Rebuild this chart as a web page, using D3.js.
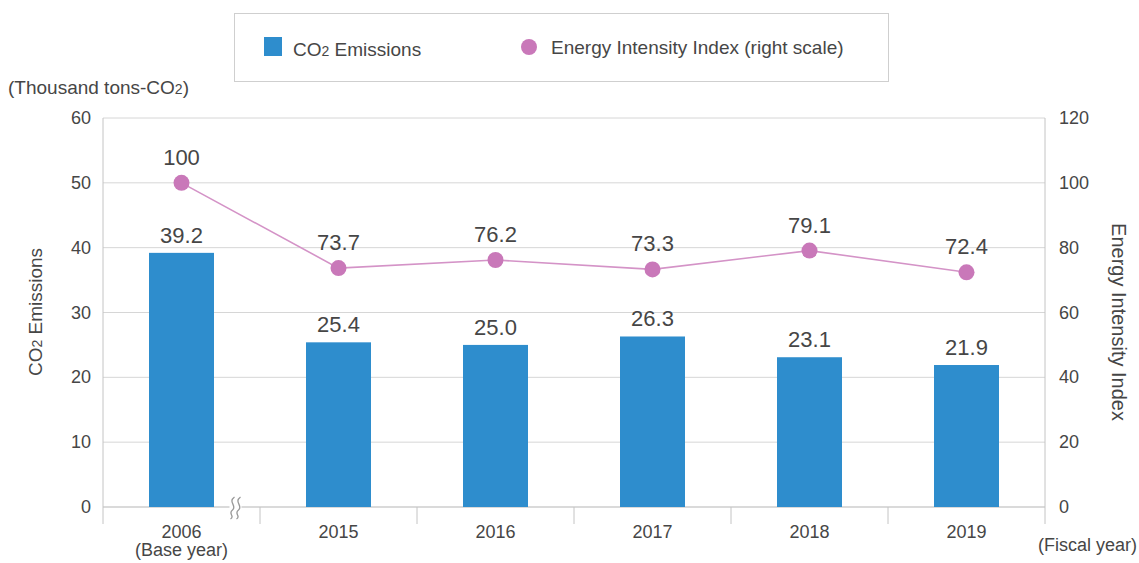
<!DOCTYPE html>
<html>
<head>
<meta charset="utf-8">
<script src="https://cdn.jsdelivr.net/npm/d3@7"></script>
<style>
  body { margin: 0; background: #fff; }
  svg text { font-family: "Liberation Sans", Arial, sans-serif; fill: #464646; }
</style>
</head>
<body>
<div id="chart"></div>
<script>
const years = ["2006", "2015", "2016", "2017", "2018", "2019"];
const subLabels = ["(Base year)", "", "", "", "", ""];
const co2 = [39.2, 25.4, 25.0, 26.3, 23.1, 21.9];
const intensity = [100, 73.7, 76.2, 73.3, 79.1, 72.4];
const leftTicks = [0, 10, 20, 30, 40, 50, 60];
const rightTicks = [0, 20, 40, 60, 80, 100, 120];

const width = 1139, height = 563;
const plotL = 103, plotR = 1045, plotT = 118, plotB = 507;

const svg = d3.select("#chart").append("svg")
    .attr("width", width)
    .attr("height", height);

const x = d3.scaleBand().domain(years).range([plotL, plotR]);
const y = d3.scaleLinear().domain([0, 60]).range([plotB, plotT]);
const yR = d3.scaleLinear().domain([0, 120]).range([plotB, plotT]);
const barW = 65;
const mid = d => x(d) + x.bandwidth() / 2;

// grid lines
svg.append("g").selectAll("line")
    .data(leftTicks)
    .join("line")
    .attr("x1", plotL).attr("x2", plotR)
    .attr("y1", d => y(d)).attr("y2", d => y(d))
    .attr("stroke", d => d === 0 ? "#b5b5b5" : "#d6d6d6");

// vertical frame lines
svg.append("line").attr("x1", plotL).attr("x2", plotL).attr("y1", plotT).attr("y2", plotB + 17).attr("stroke", "#c4c4c4");
svg.append("line").attr("x1", plotR).attr("x2", plotR).attr("y1", plotT).attr("y2", plotB + 17).attr("stroke", "#c4c4c4");

// category separators below axis
svg.append("g").selectAll("line")
    .data(years.slice(1))
    .join("line")
    .attr("x1", d => x(d)).attr("x2", d => x(d))
    .attr("y1", plotB).attr("y2", plotB + 17)
    .attr("stroke", "#c4c4c4");

// left tick labels
svg.append("g").selectAll("text")
    .data(leftTicks)
    .join("text")
    .attr("x", 91).attr("y", d => y(d) + 6)
    .attr("text-anchor", "end")
    .attr("font-size", 18)
    .text(d => d);

// right tick labels
svg.append("g").selectAll("text")
    .data(rightTicks)
    .join("text")
    .attr("x", 1059).attr("y", d => yR(d) + 6)
    .attr("font-size", 18)
    .text(d => d);

// bars
svg.append("g").selectAll("rect")
    .data(co2)
    .join("rect")
    .attr("x", (d, i) => mid(years[i]) - barW / 2)
    .attr("width", barW)
    .attr("y", d => y(d))
    .attr("height", d => y(0) - y(d))
    .attr("fill", "#2e8dcd");

// bar value labels
svg.append("g").selectAll("text")
    .data(co2)
    .join("text")
    .attr("x", (d, i) => mid(years[i]))
    .attr("y", d => y(d) - 10)
    .attr("text-anchor", "middle")
    .attr("font-size", 22)
    .text(d => d.toFixed(1));

// axis break mark between 2006 and 2015
const bx = mid(years[0]) + 54;
const brk = svg.append("g").attr("transform", `translate(${bx},${plotB})`);
brk.append("rect").attr("x", -6).attr("y", -10).attr("width", 12).attr("height", 22).attr("fill", "#fff");
[-3, 3].forEach(dx => {
  brk.append("path")
    .attr("d", `M${dx + 2},-10 C${dx - 5},-5 ${dx + 5},-1 ${dx},3 C${dx - 5},7 ${dx + 3},9 ${dx - 2},12`)
    .attr("fill", "none").attr("stroke", "#999").attr("stroke-width", 1.3);
});

// intensity line
const cx = (d, i) => mid(years[i]);
const line = d3.line().x((d, i) => cx(d, i)).y(d => yR(d));
svg.append("path")
    .datum(intensity)
    .attr("d", line)
    .attr("fill", "none")
    .attr("stroke", "#d493c7")
    .attr("stroke-width", 1.6);

svg.append("g").selectAll("circle")
    .data(intensity)
    .join("circle")
    .attr("cx", cx)
    .attr("cy", d => yR(d))
    .attr("r", 8)
    .attr("fill", "#c978b9");

svg.append("g").selectAll("text")
    .data(intensity)
    .join("text")
    .attr("x", cx)
    .attr("y", d => yR(d) - 18)
    .attr("text-anchor", "middle")
    .attr("font-size", 22)
    .text(d => d === 100 ? "100" : d.toFixed(1));

// category labels
const cat = svg.append("g").selectAll("g")
    .data(years)
    .join("g")
    .attr("transform", d => `translate(${mid(d)},0)`);
cat.append("text").attr("y", 538).attr("text-anchor", "middle").attr("font-size", 18).text(d => d);
cat.append("text").attr("y", 556).attr("text-anchor", "middle").attr("font-size", 18)
    .text((d, i) => subLabels[i]);

svg.append("text").attr("x", 1137).attr("y", 551).attr("text-anchor", "end")
    .attr("font-size", 18).text("(Fiscal year)");

// unit label
const unit = svg.append("text").attr("x", 8).attr("y", 94).attr("font-size", 19);
unit.append("tspan").text("(Thousand tons-CO");
unit.append("tspan").attr("font-size", 14).text("2");
unit.append("tspan").text(")");

// axis titles
const lt = svg.append("text")
    .attr("transform", "translate(42,312) rotate(-90)")
    .attr("text-anchor", "middle")
    .attr("font-size", 19);
lt.append("tspan").text("CO");
lt.append("tspan").attr("font-size", 14).text("2");
lt.append("tspan").text(" Emissions");

svg.append("text")
    .attr("transform", "translate(1112,322) rotate(90)")
    .attr("text-anchor", "middle")
    .attr("font-size", 20)
    .text("Energy Intensity Index");

// legend
const legend = svg.append("g");
legend.append("rect").attr("x", 234.5).attr("y", 13.5).attr("width", 654).attr("height", 68)
    .attr("fill", "#fff").attr("stroke", "#cfcfcf");
legend.append("rect").attr("x", 264).attr("y", 37).attr("width", 18).attr("height", 19).attr("fill", "#2e8dcd");
const lg1 = legend.append("text").attr("x", 293).attr("y", 56).attr("font-size", 19);
lg1.append("tspan").text("CO");
lg1.append("tspan").attr("font-size", 14).text("2");
lg1.append("tspan").text(" Emissions");
legend.append("circle").attr("cx", 529).attr("cy", 47).attr("r", 8).attr("fill", "#c978b9");
legend.append("text").attr("x", 551).attr("y", 54).attr("font-size", 19).text("Energy Intensity Index (right scale)");
</script>
</body>
</html>
